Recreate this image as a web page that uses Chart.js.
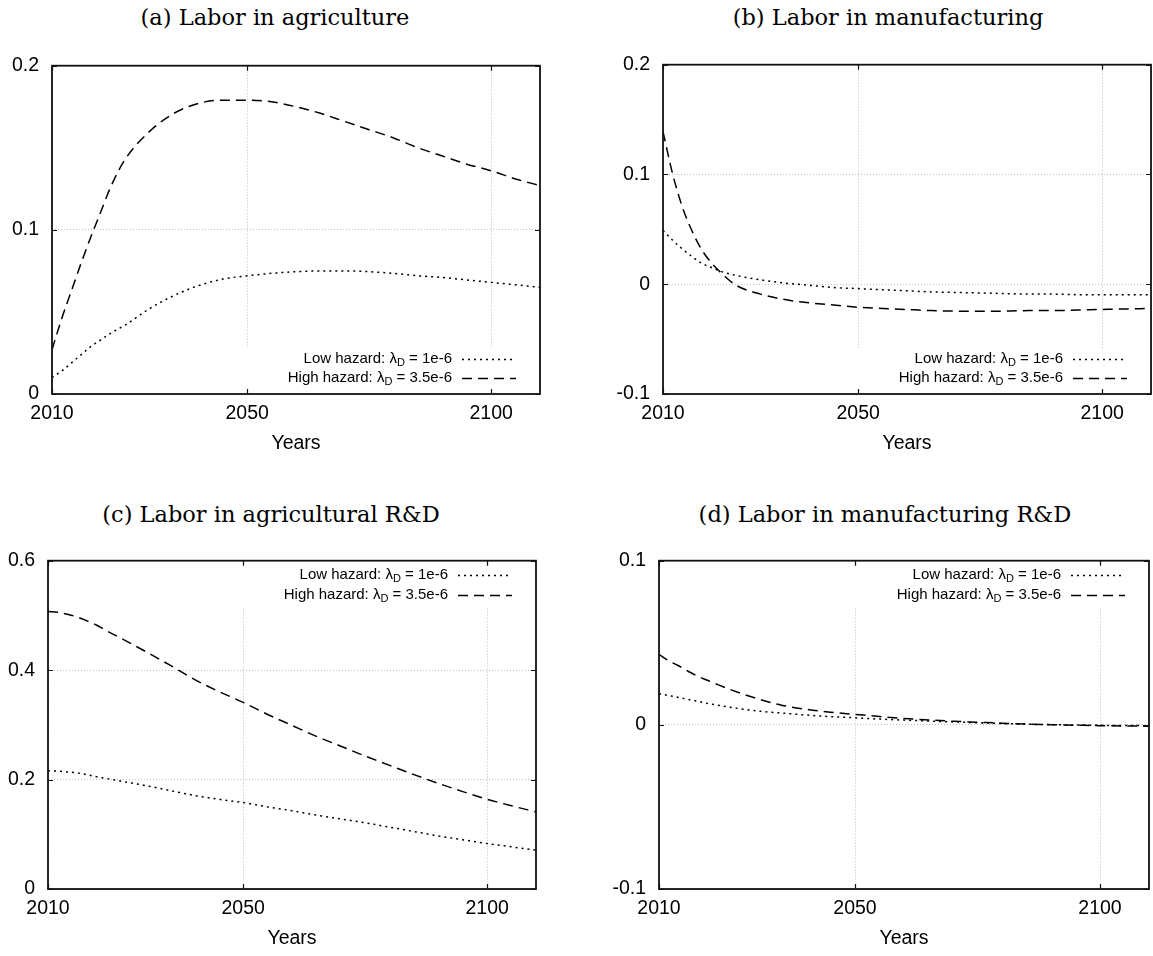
<!DOCTYPE html>
<html><head><meta charset="utf-8">
<script src="https://cdn.jsdelivr.net/npm/chart.js@4/dist/chart.umd.min.js"></script>
<style>
html,body{margin:0;padding:0;background:#fff;width:1153px;height:956px;overflow:hidden;position:relative}
.t{position:absolute;font-family:"DejaVu Serif",serif;font-size:22.5px;color:#000;white-space:nowrap;transform:translate(-50%,-50%);line-height:1}
canvas{position:absolute}
</style></head><body>
<div class="t" id="ta" style="left:275px;top:17px">(a) Labor in agriculture</div>
<div class="t" id="tb" style="left:888px;top:17px">(b) Labor in manufacturing</div>
<div class="t" id="tc" style="left:271px;top:514px">(c) Labor in agricultural R&amp;D</div>
<div class="t" id="td" style="left:885px;top:514px">(d) Labor in manufacturing R&amp;D</div>
<canvas id="ca"></canvas><canvas id="cb"></canvas><canvas id="cc"></canvas><canvas id="cd"></canvas>
<script>
// ---- data ----
const years = [2010,2012,2014,2016,2018,2020,2022,2025,2030,2035,2040,2045,2050,2055,2060,2065,2070,2075,2080,2085,2090,2095,2100,2105,2110];
const agriLow  = [0.010,0.014,0.019,0.024,0.029,0.033,0.037,0.042,0.052,0.060,0.066,0.070,0.072,0.0735,0.0745,0.075,0.075,0.0745,0.0735,0.072,0.071,0.0695,0.068,0.0665,0.065];
const agriHigh = [0.027,0.046,0.063,0.080,0.096,0.111,0.126,0.143,0.160,0.171,0.177,0.179,0.179,0.178,0.175,0.171,0.166,0.161,0.156,0.150,0.145,0.140,0.136,0.131,0.127];
const manuLow  = [0.049,0.040,0.032,0.025,0.019,0.015,0.0115,0.008,0.004,0.001,-0.001,-0.003,-0.004,-0.005,-0.006,-0.007,-0.0075,-0.008,-0.0085,-0.009,-0.009,-0.0095,-0.0095,-0.0095,-0.0095];
const manuHigh = [0.139,0.100,0.070,0.048,0.031,0.019,0.010,-0.001,-0.009,-0.014,-0.017,-0.019,-0.021,-0.022,-0.023,-0.024,-0.0245,-0.0245,-0.0245,-0.024,-0.024,-0.0235,-0.023,-0.0225,-0.022];
const agriRDLow  = [0.216,0.2155,0.214,0.212,0.209,0.205,0.202,0.197,0.189,0.180,0.171,0.164,0.158,0.150,0.143,0.135,0.128,0.121,0.113,0.105,0.097,0.090,0.083,0.077,0.071];
const agriRDHigh = [0.507,0.506,0.502,0.497,0.490,0.482,0.472,0.458,0.434,0.409,0.383,0.361,0.341,0.319,0.299,0.279,0.261,0.243,0.226,0.209,0.193,0.178,0.164,0.152,0.141];
const manuRDLow  = [0.019,0.0178,0.0167,0.0155,0.0143,0.013,0.012,0.0105,0.0085,0.0072,0.006,0.005,0.0043,0.0035,0.0029,0.0023,0.0018,0.0013,0.0008,0.0004,0.0001,-0.0001,-0.0003,-0.0004,-0.0005];
const manuRDHigh = [0.043,0.039,0.036,0.0325,0.0295,0.027,0.0245,0.021,0.016,0.012,0.0095,0.0077,0.0064,0.0051,0.0039,0.003,0.0022,0.0016,0.001,0.0005,0.0001,-0.0002,-0.0005,-0.0007,-0.0008];
const xTicks = [2010,2050,2100];
const xRange = [2010,2110];
const agriTicks = [0,0.1,0.2];
const manuTicks = [-0.1,0,0.1,0.2];
const agriRDTicks = [0,0.2,0.4,0.6];
const manuRDTicks = [-0.1,0,0.1];
const legendHeads = ['Low hazard: \u03bb','High hazard: \u03bb'];
const legendSubs = ['D','D'];
const legendTails = [' = 1e-6',' = 3.5e-6'];
const xTitle = 'Years';

// ---- layout ----
const SANS = '"Liberation Sans", Arial, sans-serif';
const TICKFONT = 19.5;
const TP = 20, RP = 2, XH = 62;

function makeChart(id, geo, low, high, yTicks, legendAtTop) {
  const [L, T, R, B, cellLeft] = geo;
  const YW = L - cellLeft;
  const cv = document.getElementById(id);
  const w = YW + (R - L) + RP, h = TP + (B - T) + XH;
  cv.width = w; cv.height = h;
  cv.style.width = w + 'px'; cv.style.height = h + 'px';
  cv.style.left = cellLeft + 'px'; cv.style.top = (T - TP) + 'px';

  const frame = {
    id: 'frame' + id,
    beforeDatasetsDraw(chart) {
      const ca = chart.chartArea, ctx = chart.ctx;
      ctx.save(); ctx.fillStyle = '#fff';
      if (legendAtTop) ctx.fillRect(ca.left + 2, ca.top + 2, ca.right - ca.left - 4, 44);
      else ctx.fillRect(ca.left + 2, ca.bottom - 46, ca.right - ca.left - 4, 44);
      ctx.restore();
    },
    afterDatasetsDraw(chart) {
      const ca = chart.chartArea, ctx = chart.ctx;
      const xs = chart.scales.x, ys = chart.scales.y;
      ctx.save();
      ctx.strokeStyle = '#111'; ctx.lineWidth = 1.2; ctx.setLineDash([]);
      ctx.beginPath();
      xTicks.forEach(v => { const px = Math.round(xs.getPixelForValue(v)) + 0.5;
        ctx.moveTo(px, ca.bottom); ctx.lineTo(px, ca.bottom - 5);
        ctx.moveTo(px, ca.top); ctx.lineTo(px, ca.top + 5); });
      yTicks.forEach(v => { const py = Math.round(ys.getPixelForValue(v)) + 0.5;
        ctx.moveTo(ca.left, py); ctx.lineTo(ca.left + 5, py);
        ctx.moveTo(ca.right, py); ctx.lineTo(ca.right - 5, py); });
      ctx.stroke();
      ctx.lineWidth = 1.8; ctx.strokeStyle = '#111';
      ctx.strokeRect(ca.left, ca.top, ca.right - ca.left, ca.bottom - ca.top);
      // legend
      const rowsY = legendAtTop ? [ca.top + 14, ca.top + 34] : [ca.bottom - 35, ca.bottom - 16];
      const dashes = [[2, 4], [10, 6]];
      ctx.fillStyle = '#000'; ctx.textBaseline = 'middle'; ctx.textAlign = 'left';
      for (let i = 0; i < 2; i++) {
        const y = rowsY[i];
        let x = ca.right - 88;
        ctx.font = '15px ' + SANS;
        const wt = ctx.measureText(legendTails[i]).width;
        x -= wt; ctx.fillText(legendTails[i], x, y);
        ctx.font = '11px ' + SANS;
        const ws = ctx.measureText(legendSubs[i]).width;
        x -= ws; ctx.fillText(legendSubs[i], x, y + 4);
        ctx.font = '15px ' + SANS;
        const wh = ctx.measureText(legendHeads[i]).width;
        x -= wh; ctx.fillText(legendHeads[i], x, y);
        ctx.beginPath(); ctx.setLineDash(dashes[i]); ctx.lineWidth = 1.5; ctx.strokeStyle = '#000';
        ctx.moveTo(ca.right - 78, Math.round(y) + 0.5); ctx.lineTo(ca.right - 24, Math.round(y) + 0.5); ctx.stroke();
      }
      ctx.restore();
    }
  };

  const mk = (arr) => years.map((yr, i) => ({x: yr, y: arr[i]}));
  return new Chart(cv, {
    type: 'line',
    data: { datasets: [
      { label: 'Low hazard', data: mk(low), borderColor: '#000', borderWidth: 1.5, borderDash: [2, 4], borderCapStyle: 'butt', pointRadius: 0, fill: false, cubicInterpolationMode: 'monotone' },
      { label: 'High hazard', data: mk(high), borderColor: '#000', borderWidth: 1.5, borderDash: [10, 6], borderCapStyle: 'butt', pointRadius: 0, fill: false, cubicInterpolationMode: 'monotone' }
    ]},
    options: {
      responsive: false, animation: false, devicePixelRatio: 1,
      layout: { padding: { top: TP, right: RP, left: 0, bottom: 0 } },
      plugins: { legend: { display: false }, tooltip: { enabled: false }, title: { display: false } },
      scales: {
        x: { type: 'linear', min: xRange[0], max: xRange[1],
          afterBuildTicks: s => { s.ticks = xTicks.map(v => ({ value: v })); },
          afterFit: s => { s.height = XH; },
          ticks: { autoSkip: false, maxRotation: 0, padding: 8, color: '#000', font: { family: SANS, size: TICKFONT }, callback: v => String(v) },
          grid: { color: '#bdbdbd', lineWidth: 1, drawTicks: false },
          border: { display: false, dash: [1, 2] },
          title: { display: true, text: xTitle, color: '#000', font: { family: SANS, size: TICKFONT }, padding: { top: 0, bottom: 1 } }
        },
        y: { type: 'linear', min: yTicks[0], max: yTicks[yTicks.length - 1],
          afterBuildTicks: s => { s.ticks = yTicks.map(v => ({ value: v })); },
          afterFit: s => { s.width = YW; },
          ticks: { autoSkip: false, padding: 13, color: '#000', font: { family: SANS, size: TICKFONT }, callback: v => String(v) },
          grid: { color: '#bdbdbd', lineWidth: 1, drawTicks: false },
          border: { display: false, dash: [1, 2] }
        }
      }
    },
    plugins: [frame]
  });
}

makeChart('ca', [52, 61, 540, 394, 0], agriLow, agriHigh, agriTicks, false);
makeChart('cb', [663, 60, 1151, 394, 577], manuLow, manuHigh, manuTicks, false);
makeChart('cc', [48, 556, 536, 889, 0], agriRDLow, agriRDHigh, agriRDTicks, true);
makeChart('cd', [659, 556, 1149, 889, 577], manuRDLow, manuRDHigh, manuRDTicks, true);
</script>
</body></html>
